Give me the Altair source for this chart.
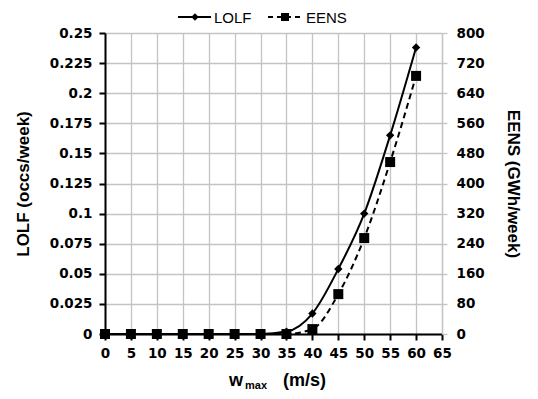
import altair as alt
import pandas as pd

# ---- data ----
wmax = [0, 5, 10, 15, 20, 25, 30, 35, 40, 45, 50, 55, 60]
lolf = [0, 0, 0, 0, 0, 0, 0, 0.002, 0.017, 0.054, 0.100, 0.165, 0.238]
eens = [0, 0, 0, 0, 0, 0, 0, 0, 13, 106, 255, 457, 686]
x_ticks = list(range(0, 70, 5))
lolf_ticks = [round(i * 0.025, 3) for i in range(11)]
eens_ticks = list(range(0, 880, 80))

df = pd.DataFrame({"w": wmax, "LOLF": lolf, "EENS": eens})
one = pd.DataFrame({"a": [0]})

W, H = 337, 301
FONT = "Liberation Sans"
TFONT = "DejaVu Sans"
TSIZE = 13.5
GRID = "#c4c4c4"

x_axis = alt.Axis(
    values=x_ticks, title=None, grid=True, gridColor=GRID, gridWidth=1.3,
    domainColor="black", domainWidth=2, tickColor="black", tickWidth=2,
    tickSize=6, labelFont=TFONT, labelFontSize=TSIZE, labelFontWeight="bold",
    labelColor="black", labelPadding=6, labelFlush=False, labelOverlap=False,
)
x_scale = alt.Scale(domain=[0, 65], nice=False, zero=False)

left_axis = alt.Axis(
    values=lolf_ticks, format=".3~f", title="LOLF (occs/week)", orient="left",
    grid=True, gridColor=GRID, gridWidth=1.3, domainColor="black",
    domainWidth=2, tickColor="black", tickWidth=2, tickSize=6,
    labelFont=TFONT, labelFontSize=TSIZE, labelFontWeight="bold",
    labelColor="black", labelPadding=7, labelOverlap=False, labelFlush=False,
    titleFont=FONT, titleFontSize=17,
    titleFontWeight="bold", titleColor="black", titlePadding=17,
)
left_scale = alt.Scale(domain=[0, 0.25], nice=False)

right_axis = alt.Axis(
    values=eens_ticks, format="d", title="EENS (GWh/week)", orient="right",
    grid=False, domainColor=GRID, domainWidth=1.3, tickColor=GRID,
    tickWidth=1.3, tickSize=5, labelFont=TFONT, labelFontSize=TSIZE,
    labelFontWeight="bold", labelColor="black", labelPadding=9,
    labelOverlap=False, labelFlush=False,
    titleFont=FONT, titleFontSize=17, titleFontWeight="bold",
    titleColor="black", titlePadding=19,
)
right_scale = alt.Scale(domain=[0, 800], nice=False)

base = alt.Chart(df)
xe = alt.X("w:Q", scale=x_scale, axis=x_axis)
lolf_line = base.mark_line(color="black", strokeWidth=2, interpolate="monotone").encode(
    x=xe, y=alt.Y("LOLF:Q", scale=left_scale, axis=left_axis))
lolf_pts = base.mark_point(shape="diamond", filled=True, color="black", size=70, opacity=1).encode(
    x=xe, y=alt.Y("LOLF:Q", scale=left_scale, axis=left_axis))

eens_line = base.mark_line(color="black", strokeWidth=2, strokeDash=[6, 4], interpolate="monotone").encode(
    x=xe, y=alt.Y("EENS:Q", scale=right_scale, axis=right_axis))
eens_pts = base.mark_point(shape="square", filled=True, color="black", size=100, opacity=1).encode(
    x=xe, y=alt.Y("EENS:Q", scale=right_scale, axis=right_axis))

# ---- manual legend (top) and x-axis title with subscript ----
lg = alt.Chart(one)
LY = -16
leg = [
    lg.mark_rule(color="black", strokeWidth=2).encode(x=alt.value(73), x2=alt.value(106), y=alt.value(LY)),
    lg.mark_point(shape="diamond", filled=True, color="black", size=55, opacity=1).encode(x=alt.value(90), y=alt.value(LY)),
    lg.mark_text(align="left", baseline="middle", font=FONT, fontSize=15, fontWeight="normal", color="black").encode(x=alt.value(109), y=alt.value(LY + 1), text=alt.value("LOLF")),
    lg.mark_rule(color="black", strokeWidth=2, strokeDash=[5, 4]).encode(x=alt.value(163), x2=alt.value(198), y=alt.value(LY)),
    lg.mark_point(shape="square", filled=True, color="black", size=65, opacity=1).encode(x=alt.value(180), y=alt.value(LY)),
    lg.mark_text(align="left", baseline="middle", font=FONT, fontSize=15, fontWeight="normal", color="black").encode(x=alt.value(201), y=alt.value(LY + 1), text=alt.value("EENS")),
    lg.mark_text(align="left", baseline="alphabetic", font=FONT, fontSize=18, fontWeight="bold", color="black").encode(x=alt.value(124), y=alt.value(H + 52), text=alt.value("w")),
    lg.mark_text(align="left", baseline="alphabetic", font=FONT, fontSize=11, fontWeight="bold", color="black").encode(x=alt.value(140), y=alt.value(H + 55), text=alt.value("max")),
    lg.mark_text(align="left", baseline="alphabetic", font=FONT, fontSize=18, fontWeight="bold", color="black").encode(x=alt.value(178), y=alt.value(H + 52), text=alt.value("(m/s)")),
]

left = alt.layer(lolf_line, lolf_pts)
right = alt.layer(eens_line, eens_pts)

chart = alt.layer(left, right, *leg).resolve_scale(y="independent").properties(
    width=W, height=H,
    autosize=alt.AutoSizeParams(type="none"),
    padding={"left": 97, "top": 25, "right": 88, "bottom": 57},
).configure_view(stroke=None).configure_axis(labelOverlap=False).configure(background="white")

chart.save("out.html", embed_options={"renderer": "svg", "actions": False})
